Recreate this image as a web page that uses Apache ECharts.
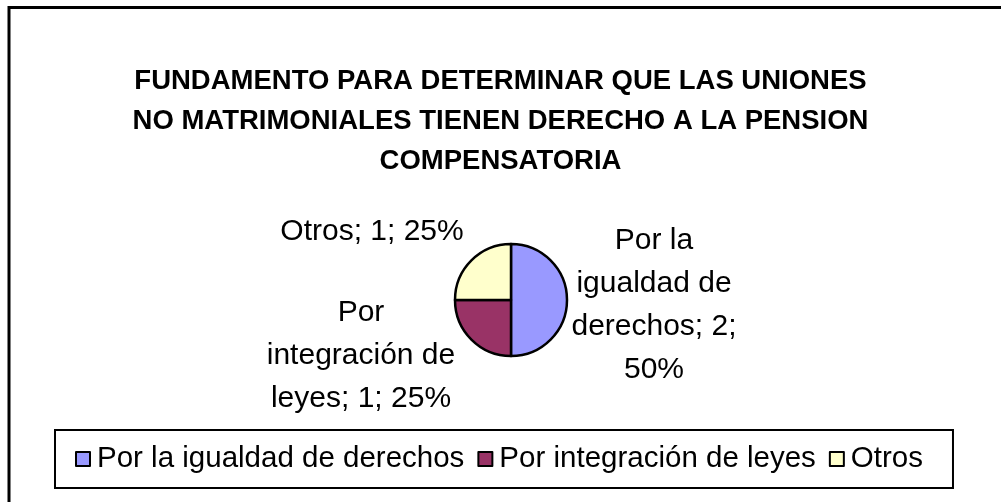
<!DOCTYPE html>
<html>
<head>
<meta charset="utf-8">
<script src="https://cdn.jsdelivr.net/npm/echarts@6/dist/echarts.min.js"></script>
<style>
html,body{margin:0;padding:0;background:#fff;}
#c{width:1001px;height:502px;}
</style>
</head>
<body>
<div id="c"></div>
<script>
const titleLines = ['FUNDAMENTO PARA DETERMINAR QUE LAS UNIONES', 'NO MATRIMONIALES TIENEN DERECHO A LA PENSION', 'COMPENSATORIA'];
const categories = ['Por la igualdad de derechos', 'Por integración de leyes', 'Otros'];
const values = [2, 1, 1];
const colors = ['#9999FF', '#993366', '#FFFFCC'];
// label line breaks: break after these word counts
const labelBreaks = [[2, 4, 6], [1, 3], []];

const FONT = '"Liberation Sans", Arial, sans-serif';
const cx = 511, cy = 300;
const labelOffsets = [[143, 5], [-150, 56], [-139, -68]];

function wrapLabel(text, breaks) {
  const words = text.split(' ');
  let out = '';
  words.forEach((w, i) => {
    out += w;
    if (i < words.length - 1) out += breaks.indexOf(i + 1) >= 0 ? '\n' : ' ';
  });
  return out;
}

const chart = echarts.init(document.getElementById('c'), null, {renderer: 'canvas'});
chart.setOption({
  backgroundColor: '#ffffff',
  animation: false,
  graphic: [{
    type: 'rect',
    shape: {x: 9, y: 7.5, width: 1100, height: 600},
    style: {fill: 'none', stroke: '#000', lineWidth: 3},
    z: 100
  }],
  title: {
    text: titleLines.join('\n'),
    left: 'center',
    top: 56,
    textStyle: {fontFamily: FONT, fontSize: 27.5, fontWeight: 'bold', color: '#000', lineHeight: 40}
  },
  legend: {
    data: categories,
    left: 55,
    top: 430,
    padding: [14, 30, 14, 20],
    borderColor: '#000',
    borderWidth: 2,
    itemWidth: 14,
    itemHeight: 14,
    itemGap: 13,
    icon: 'rect',
    itemStyle: {borderColor: '#000', borderWidth: 2},
    textStyle: {fontFamily: FONT, fontSize: 29.5, color: '#000', padding: [0, 0, 0, 2]}
  },
  series: [{
    type: 'pie',
    center: [cx, cy],
    radius: 56,
    startAngle: 90,
    clockwise: true,
    itemStyle: {borderColor: '#000', borderWidth: 2.5},
    label: {
      show: true,
      position: 'outside',
      fontFamily: FONT,
      fontSize: 30,
      color: '#000',
      lineHeight: 43,
      formatter: p => wrapLabel(p.name + '; ' + p.value + '; ' + Math.round(p.percent) + '%', labelBreaks[p.dataIndex])
    },
    labelLine: {show: false},
    labelLayout: function (params) {
      const o = labelOffsets[params.dataIndex];
      return {x: cx + o[0], y: cy + o[1], align: 'center', verticalAlign: 'middle'};
    },
    data: categories.map((n, i) => ({
      name: n,
      value: values[i],
      itemStyle: {color: colors[i]}
    }))
  }]
});
</script>
</body>
</html>
